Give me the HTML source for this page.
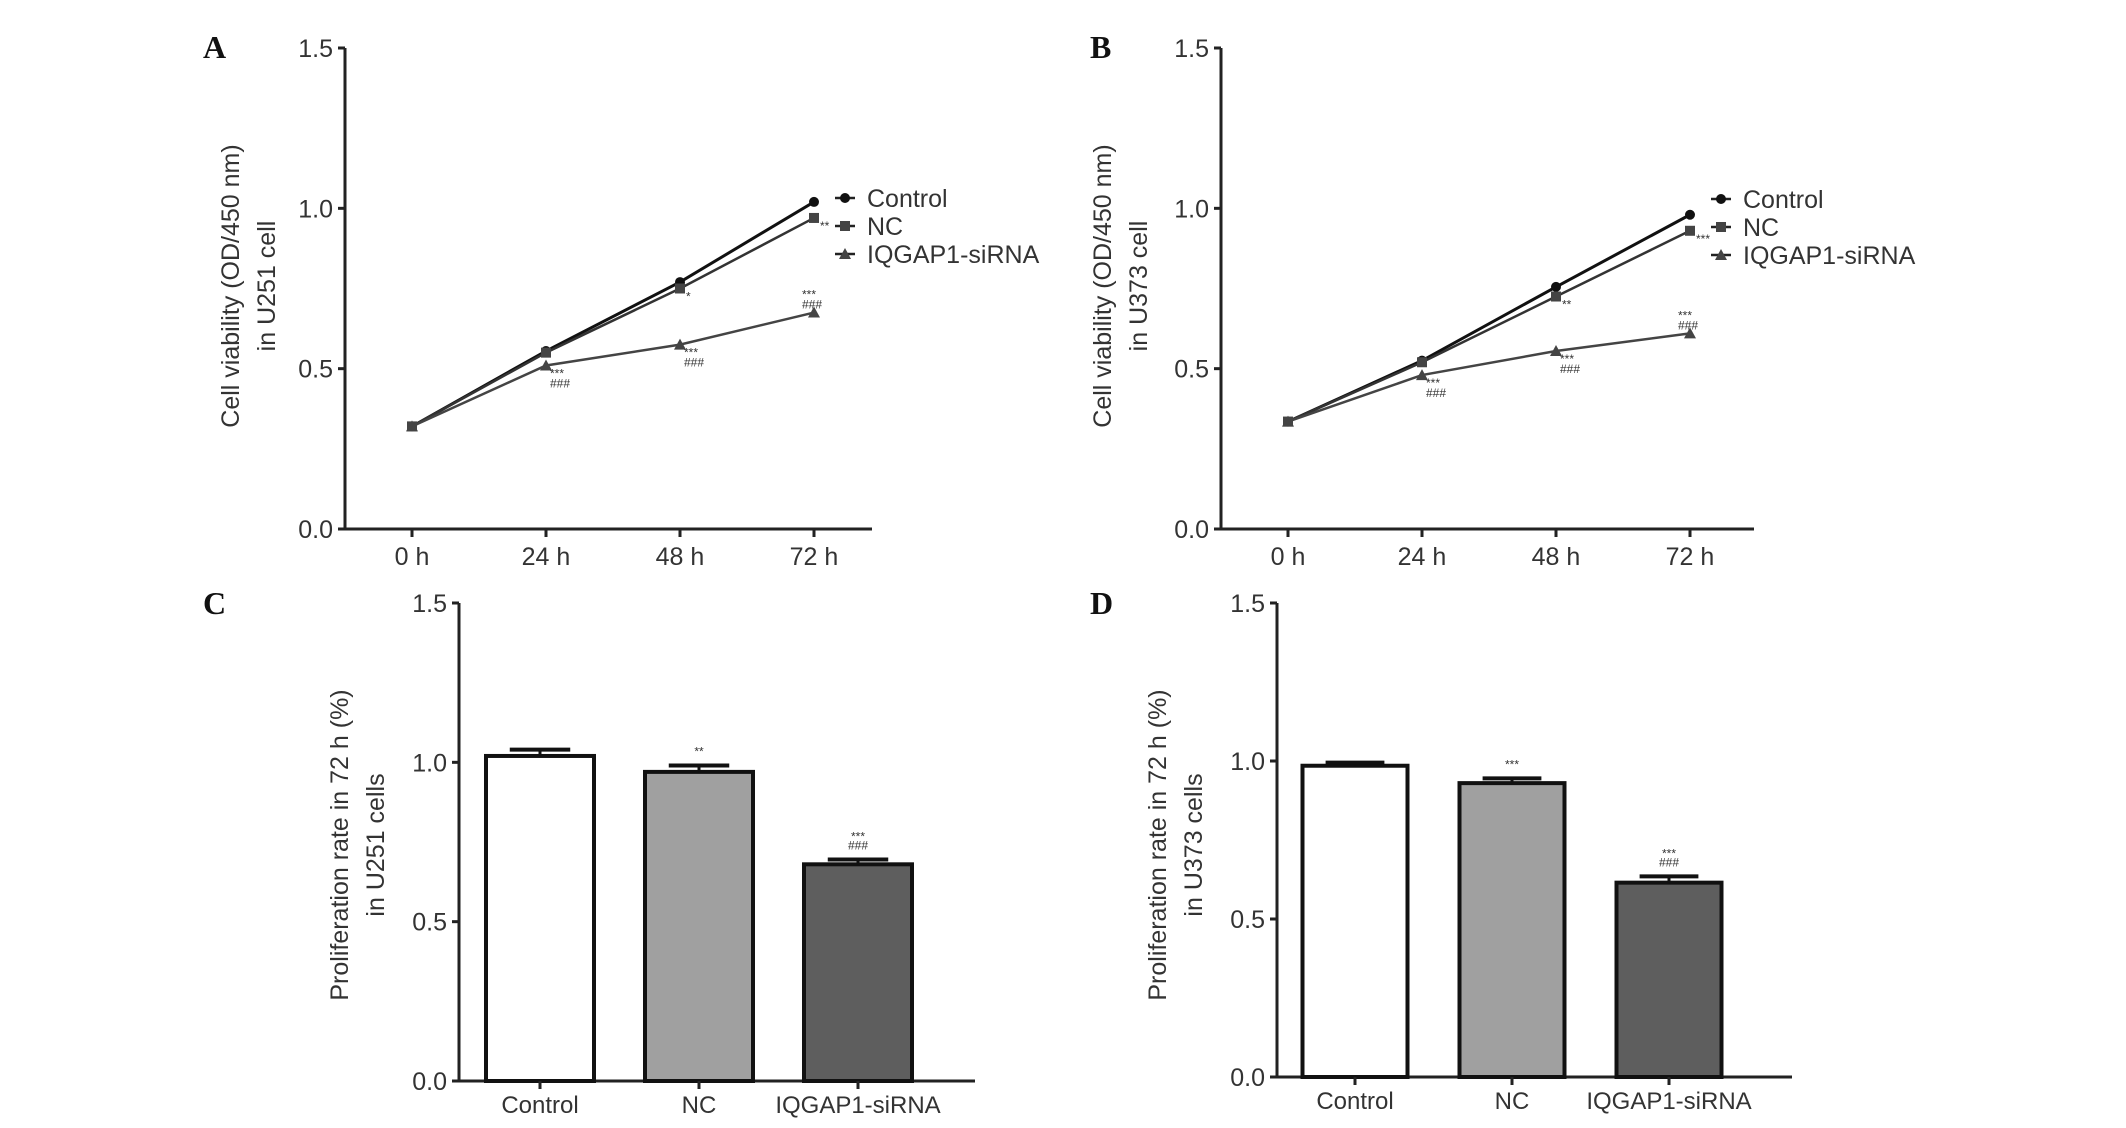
<!DOCTYPE html>
<html><head><meta charset="utf-8"><style>
html,body{margin:0;padding:0;background:#fff;}
svg{display:block;}
text{font-family:"Liberation Sans",sans-serif;fill:#333;}
.lbl{font-family:"Liberation Serif",serif;font-weight:bold;fill:#111;font-size:32px;}
</style></head><body>
<svg id="fig" width="2126" height="1128" viewBox="0 0 2126 1128" xmlns="http://www.w3.org/2000/svg"></svg>
<script>
const timeLabels = ["0 h","24 h","48 h","72 h"];
const seriesNames = ["Control","NC","IQGAP1-siRNA"];
const aControl = [0.32,0.555,0.77,1.02];
const aNC = [0.32,0.55,0.75,0.97];
const aSi = [0.32,0.51,0.575,0.675];
const bControl = [0.335,0.525,0.755,0.98];
const bNC = [0.335,0.52,0.725,0.93];
const bSi = [0.335,0.48,0.555,0.61];
const barCats = ["Control","NC","IQGAP1-siRNA"];
const cVals = [1.02,0.97,0.68];
const cErr = [0.02,0.02,0.015];
const dVals = [0.985,0.93,0.615];
const dErr = [0.01,0.015,0.02];
const yTicks = [0,0.5,1.0,1.5];
const yTickLabels = ["0.0","0.5","1.0","1.5"];

const NS="http://www.w3.org/2000/svg";
const svg=document.getElementById('fig');
function el(tag,attrs,parent,txt){const e=document.createElementNS(NS,tag);for(const k in attrs)e.setAttribute(k,attrs[k]);if(txt!==undefined)e.textContent=txt;(parent||svg).appendChild(e);return e;}

function axes(g,ax){
  const y=v=>ax.y0-(v/1.5)*(ax.y0-ax.y15);
  let a=el('line',{x1:ax.x0,y1:ax.y15,x2:ax.x0,y2:ax.y0,stroke:'#222','stroke-width':3},g);
  
  a=el('line',{x1:ax.x0-6,y1:ax.y0,x2:ax.xEnd,y2:ax.y0,stroke:'#222','stroke-width':3},g);
  
  yTicks.forEach((v,i)=>{
    el('line',{x1:ax.x0-7,y1:y(v),x2:ax.x0,y2:y(v),stroke:'#222','stroke-width':3},g);
    const t=el('text',{x:ax.x0-12,y:y(v)+9,'text-anchor':'end','font-size':25},g,yTickLabels[i]);
    
  });
  const tt=el('text',{transform:`translate(${ax.tx},${ax.ty}) rotate(-90)`,'text-anchor':'middle','font-size':25},g);
  
  el('tspan',{x:0,dy:0},tt,ax.t1);el('tspan',{x:0,dy:36},tt,ax.t2);
  const L=el('text',{x:ax.lx,y:ax.ly,class:'lbl'},g,ax.label);
  
  return y;
}

function marker(g,kind,cx,cy){
  if(kind===0) el('circle',{cx,cy,r:5,fill:'#111'},g);
  else if(kind===1) el('rect',{x:cx-5,y:cy-5,width:10,height:10,fill:'#444'},g);
  else el('polygon',{points:`${cx},${cy-6} ${cx+6},${cy+5} ${cx-6},${cy+5}`,fill:'#444'},g);
}

function lineChart(ax,series,starsTxt){
  const g=el('g',{});
  const y=axes(g,ax);
  const x=i=>ax.xs0+i*(ax.xs1-ax.xs0)/(timeLabels.length-1);
  timeLabels.forEach((t,i)=>{
    el('line',{x1:x(i),y1:ax.y0,x2:x(i),y2:ax.y0+8,stroke:'#222','stroke-width':3},g);
    const tl=el('text',{x:x(i),y:ax.y0+36,'text-anchor':'middle','font-size':25},g,t);
    
  });
  const cols=['#111','#333','#444'];
  series.forEach((s,k)=>{
    const p=el('polyline',{points:s.map((v,i)=>x(i)+','+y(v)).join(' '),fill:'none',stroke:cols[k],'stroke-width':k===0?3:2.5},g);
    
    s.forEach((v,i)=>marker(g,k,x(i),y(v)));
  });
  for(let i=1;i<4;i++){
    const ni=starsTxt.nc[i-1]; if(ni) el('text',{x:x(i)+6,y:y(series[1][i])+12,'font-size':12,fill:'#777'},g,ni);
    el('text',{x:x(i)+(i===3?-12:4),y:y(series[2][i])+(i===3?-14:12),'font-size':12,fill:'#777'},g,'***');
    el('text',{x:x(i)+(i===3?-12:4),y:y(series[2][i])+(i===3?-4:22),'font-size':12,fill:'#777'},g,'###');
  }
  seriesNames.forEach((n,k)=>{
    const ly=ax.legY+k*ax.legDy;
    const lg=el('g',{},g);
    el('line',{x1:ax.legX-10,y1:ly,x2:ax.legX+10,y2:ly,stroke:'#222','stroke-width':2.5},lg);
    marker(lg,k,ax.legX,ly);
    el('text',{x:ax.legX+22,y:ly+9,'font-size':25},lg,n);
  });
}

function barChart(ax,vals,errs,stars){
  const g=el('g',{});
  const y=axes(g,ax);
  const fills=['#fff','#a0a0a0','#5e5e5e'];
  vals.forEach((v,i)=>{
    const cx=ax.c0+i*ax.step, w=ax.bw;
    const r=el('rect',{x:cx-w/2,y:y(v),width:w,height:ax.y0-y(v),fill:fills[i],stroke:'#111','stroke-width':4},g);
    
    el('line',{x1:cx,y1:y(v),x2:cx,y2:y(v+errs[i]),stroke:'#111','stroke-width':3},g);
    el('line',{x1:cx-w*0.28,y1:y(v+errs[i]),x2:cx+w*0.28,y2:y(v+errs[i]),stroke:'#111','stroke-width':4},g);
    el('line',{x1:cx,y1:ax.y0,x2:cx,y2:ax.y0+8,stroke:'#222','stroke-width':3},g);
    const tl=el('text',{x:cx,y:ax.y0+32,'text-anchor':'middle','font-size':24},g,barCats[i]);
    
    stars[i].forEach((s,j)=>el('text',{x:cx,y:y(v+errs[i])-10-(stars[i].length-1-j)*9,'text-anchor':'middle','font-size':12,fill:'#777'},g,s));
  });
}

lineChart({label:'A',lx:203,ly:58,x0:345,y0:529,y15:48,xEnd:872,xs0:412,xs1:814,tx:239,ty:286,t1:'Cell viability (OD/450 nm)',t2:'in U251 cell',legX:845,legY:198,legDy:28},[aControl,aNC,aSi],{nc:['','*','**']});
lineChart({label:'B',lx:1090,ly:58,x0:1221,y0:529,y15:48,xEnd:1754,xs0:1288,xs1:1690,tx:1111,ty:286,t1:'Cell viability (OD/450 nm)',t2:'in U373 cell',legX:1721,legY:199,legDy:28},[bControl,bNC,bSi],{nc:['','**','***']});
barChart({label:'C',lx:203,ly:614,x0:459,y0:1081,y15:603,xEnd:975,tx:348,ty:845,t1:'Proliferation rate in 72 h (%)',t2:'in U251 cells',c0:540,step:159,bw:108},cVals,cErr,[[],['**'],['***','###']]);
barChart({label:'D',lx:1090,ly:614,x0:1277,y0:1077,y15:603,xEnd:1792,tx:1166,ty:845,t1:'Proliferation rate in 72 h (%)',t2:'in U373 cells',c0:1355,step:157,bw:105},dVals,dErr,[[],['***'],['***','###']]);
</script>
</body></html>
